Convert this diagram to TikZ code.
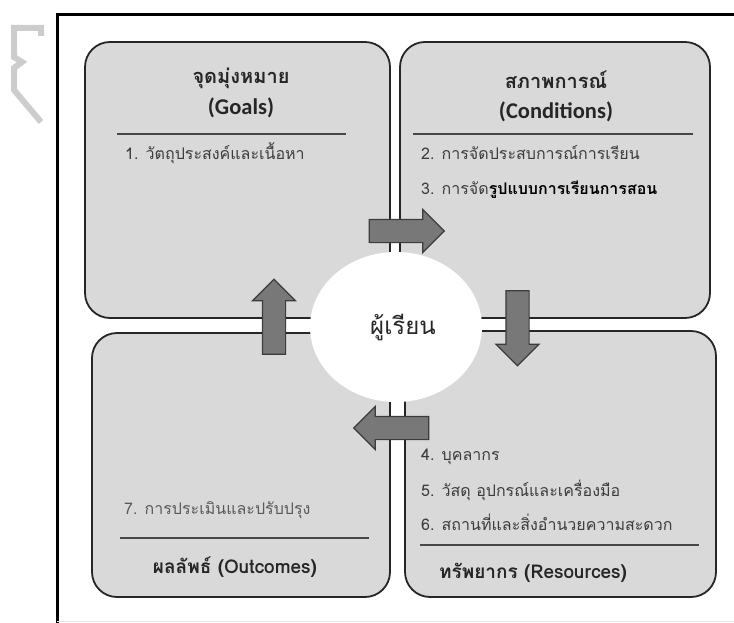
\documentclass[tikz,border=0pt]{standalone}
\usepackage{fontspec}
\setmainfont{Carlito}
\newfontfamily\thaifont[Script=Thai]{Loma}
\usetikzlibrary{shapes.arrows,shapes.geometric}
\definecolor{panelgrey}{RGB}{217,217,217}
\definecolor{edgegrey}{RGB}{38,38,38}
\definecolor{arrowgrey}{RGB}{120,120,120}
\definecolor{textgrey}{RGB}{60,60,60}
\definecolor{markgrey}{RGB}{205,205,205}

\begin{document}
\begin{tikzpicture}[x=1pt, y=-1pt,
                    stage/.style = {
                      rectangle, rounded corners=25pt, inner sep=0pt,
                      line width=1.8pt, draw=edgegrey, fill=panelgrey
                    },
                    learner/.style = {
                      ellipse, fill=white, minimum width=172pt,
                      minimum height=150pt, inner sep=0pt,
                      font=\thaifont\fontsize{24}{28}\selectfont,
                      text=edgegrey
                    },
                    flowarrow/.style = {
                      single arrow, draw=edgegrey!90, fill=arrowgrey,
                      line width=1.2pt, inner xsep=0pt, inner ysep=11pt,
                      minimum height=75pt, minimum width=42pt,
                      single arrow head extend=10pt,
                      single arrow tip angle=90
                    },
                    heading/.style = {
                      inner sep=0pt, text=edgegrey,
                      font=\thaifont\bfseries\fontsize{20}{22}\selectfont
                    },
                    footing/.style = {
                      inner sep=0pt, text=edgegrey,
                      font=\thaifont\bfseries\fontsize{19}{21}\selectfont
                    },
                    latinhead/.style = {
                      inner sep=0pt, text=edgegrey,
                      font=\bfseries\fontsize{22.5}{24}\selectfont
                    },
                    entry/.style = {
                      anchor=west, inner sep=0pt, text=textgrey,
                      font=\thaifont\fontsize{16}{18}\selectfont
                    },
                    rule/.style = {line width=1.2pt, draw=edgegrey!85}]
    \useasboundingbox (0,0) rectangle (734,623);

    % frame and the faded mark on the left
    \draw[line width=3pt] (734,15) -- (57,15) -- (57,623);
    \draw[line width=0.6pt, gray!20] (57,621) -- (734,621);
    \draw[line width=6pt, markgrey] (41,36) -- (41,28) -- (14,28) -- (14,57)
        -- (22,62) -- (14,68) -- (14,90) -- (41,122);

    % four panels
    \node (goals) [stage, minimum width=305pt, minimum height=276pt] at (237.5,180) {};
    \node (conditions) [stage, minimum width=310pt, minimum height=276pt] at (555,180) {};
    \node (outcomes) [stage, minimum width=298pt, minimum height=264pt] at (241,465) {};
    \node (resources) [stage, minimum width=311pt, minimum height=266pt] at (560.5,464) {};

    \node (learner) [learner] at (396,327) {\hspace{14pt}ผู้เรียน};

    \node (toconditions) [flowarrow] at (401,231) {};
    \node (toresources) [flowarrow, rotate=-90] at (517.5,322.5) {};
    \node (tooutcomes) [flowarrow, rotate=180] at (397,428) {};
    \node (togoals) [flowarrow, rotate=90] at (274,322.5) {};

    % goals
    \node (goalsth) [heading] at (241,78) {จุดมุ่งหมาย};
    \node (goalsen) [latinhead] at (241,108) {(Goals)};
    \draw[rule] (117,134) -- (346,134);
    \node (item1) [entry] at (125,153) {1. วัตถุประสงค์และเนื้อหา};

    % conditions
    \node (condth) [heading] at (556,80) {สภาพการณ์};
    \node (conden) [latinhead] at (556,112) {(Conditions)};
    \draw[rule] (413,134) -- (693,134);
    \node (item2) [entry] at (421,153) {2. การจัดประสบการณ์การเรียน};
    \node (item3) [entry] at (421,190) {3. การจัด\textcolor{black}{\bfseries รูปแบบการเรียนการสอน}};

    % resources
    \node (item4) [entry] at (421,457) {4. บุคลากร};
    \node (item5) [entry] at (421,490) {5. วัสดุ อุปกรณ์และเครื่องมือ};
    \node (item6) [entry] at (421,522) {6. สถานที่และสิ่งอำนวยความสะดวก};
    \draw[rule] (420,545) -- (699,545);
    \node (resname) [footing] at (533,573) {ทรัพยากร (Resources)};

    % outcomes
    \node (item7) [entry, text=textgrey!85] at (124,510) {7. การประเมินและปรับปรุง};
    \draw[rule] (120,538) -- (369,538);
    \node (outname) [footing] at (235,567) {ผลลัพธ์ (Outcomes)};
\end{tikzpicture}
\end{document}
